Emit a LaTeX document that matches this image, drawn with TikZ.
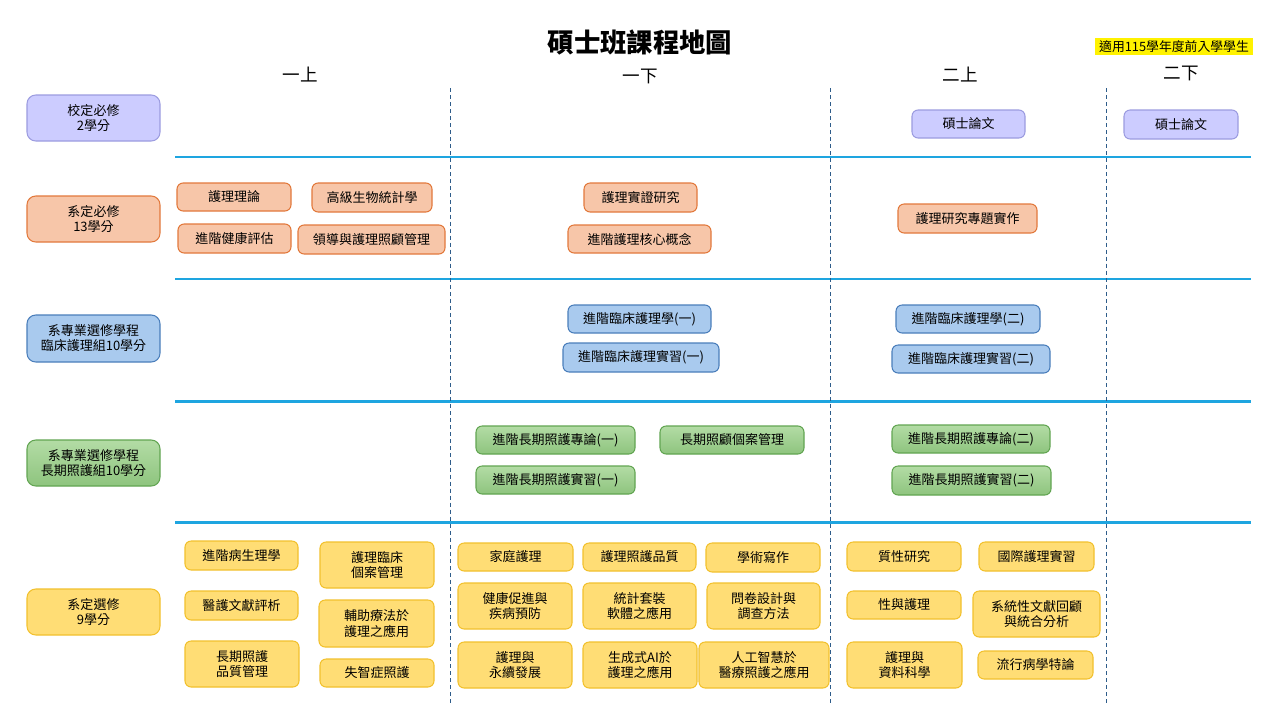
\documentclass[tikz,border=0pt]{standalone}
\usepackage{fontspec}
\setmainfont{Noto Sans CJK TC}
\definecolor{purpfill}{HTML}{CCCCFF}
\definecolor{purpline}{HTML}{9C9CE0}
\definecolor{salfill}{HTML}{F7C6A9}
\definecolor{salline}{HTML}{E2793C}
\definecolor{bluefill}{HTML}{A9CAEE}
\definecolor{blueline}{HTML}{4A7EBB}
\definecolor{greentop}{HTML}{B3DCA5}
\definecolor{greenbot}{HTML}{8EC47E}
\definecolor{greenline}{HTML}{62A552}
\definecolor{yelfill}{HTML}{FFDD75}
\definecolor{yelline}{HTML}{F2C12E}
\definecolor{rule}{HTML}{1EA5E0}
\definecolor{dashc}{HTML}{2E5C8A}
\tikzset{
  box/.style={draw, rounded corners=3.5pt, line width=0.6pt, inner sep=0pt, align=center,
    font=\fontsize{7.4}{8.6}\selectfont},
  lbl/.style={box, rounded corners=5pt},
  purp/.style={fill=purpfill, draw=purpline},
  sal/.style={fill=salfill, draw=salline},
  blu/.style={fill=bluefill, draw=blueline},
  grn/.style={top color=greentop, bottom color=greenbot, draw=greenline},
  yel/.style={fill=yelfill, draw=yelline},
  hrule/.style={draw=rule, line width=1.7pt},
  vrule/.style={draw=dashc, line width=0.55pt, dash pattern=on 2.3pt off 1.7pt},
  header/.style={font=\fontsize{10}{12}\selectfont, inner sep=0pt}
}
\newcommand\coursebox[7]{\node[box,#2, minimum width={(#5-#3)*0.02cm}, minimum height={(#6-#4)*0.02cm}] (#1) at ({(#3+#5)/2},{(#4+#6)/2}) {#7};}
\newcommand\labelbox[7]{\node[lbl,#2, minimum width={(#5-#3)*0.02cm}, minimum height={(#6-#4)*0.02cm}] (#1) at ({(#3+#5)/2},{(#4+#6)/2}) {#7};}
\begin{document}
\begin{tikzpicture}[x=0.02cm,y=-0.02cm]
\fill[white] (0,0) rectangle (1280,720);
\useasboundingbox (0,0) rectangle (1280,720);
% title
\node[font=\fontsize{15}{18}\selectfont\bfseries, inner sep=0pt] (title) at (640,42) {碩士班課程地圖};
\node[fill=yellow, inner sep=0pt, minimum width={158*0.02cm}, minimum height={17*0.02cm}, font=\fontsize{7.3}{9}\selectfont] (note) at (1174,46.5) {適用115學年度前入學學生};
% headers
\node[header] (h1) at (300,75) {一上};
\node[header] (h2) at (640,76) {一下};
\node[header] (h3) at (960,75) {二上};
\node[header] (h4) at (1181,73) {二下};
% rules
\foreach \yy in {157,279,401,522} \draw[hrule] (175,\yy) -- (1251,\yy);
\foreach \xx in {450,830,1106} \draw[vrule] (\xx,88) -- (\xx,703);
% left labels
\labelbox{L1}{purp}{27}{95}{160}{141}{校定必修\\2學分}
\labelbox{L2}{sal}{27}{196}{160}{242}{系定必修\\13學分}
\labelbox{L3}{blu}{27}{315}{160}{362}{系專業選修學程\\臨床護理組10學分}
\labelbox{L4}{grn}{27}{440}{160}{486}{系專業選修學程\\長期照護組10學分}
\labelbox{L5}{yel}{27}{589}{160}{635}{系定選修\\9學分}
% row 1
\coursebox{r1a}{purp}{912}{110}{1025}{138}{碩士論文}
\coursebox{r1b}{purp}{1124}{110}{1238}{139}{碩士論文}
% row 2
\coursebox{r2a}{sal}{177}{183}{291}{211}{護理理論}
\coursebox{r2b}{sal}{312}{183}{432}{212}{高級生物統計學}
\coursebox{r2c}{sal}{178}{224}{291}{253}{進階健康評估}
\coursebox{r2d}{sal}{298}{225}{445}{254}{領導與護理照顧管理}
\coursebox{r2e}{sal}{584}{183}{697}{212}{護理實證研究}
\coursebox{r2f}{sal}{568}{225}{711}{253}{進階護理核心概念}
\coursebox{r2g}{sal}{898}{204}{1037}{233}{護理研究專題實作}
% row 3
\coursebox{r3a}{blu}{568}{305}{711}{333}{進階臨床護理學(一)}
\coursebox{r3b}{blu}{563}{343}{719}{372}{進階臨床護理實習(一)}
\coursebox{r3c}{blu}{896}{305}{1040}{333}{進階臨床護理學(二)}
\coursebox{r3d}{blu}{892}{345}{1050}{373}{進階臨床護理實習(二)}
% row 4
\coursebox{r4a}{grn}{476}{426}{635}{454}{進階長期照護專論(一)}
\coursebox{r4b}{grn}{660}{426}{804}{454}{長期照顧個案管理}
\coursebox{r4c}{grn}{476}{466}{635}{494}{進階長期照護實習(一)}
\coursebox{r4d}{grn}{892}{425}{1050}{453}{進階長期照護專論(二)}
\coursebox{r4e}{grn}{892}{466}{1051}{495}{進階長期照護實習(二)}
% row 5
\coursebox{e1}{yel}{185}{541}{298}{570}{進階病生理學}
\coursebox{e2}{yel}{185}{591}{298}{620}{醫護文獻評析}
\coursebox{e3}{yel}{185}{641}{299}{687}{長期照護\\品質管理}
\coursebox{e4}{yel}{320}{542}{434}{588}{護理臨床\\個案管理}
\coursebox{e5}{yel}{319}{600}{434}{647}{輔助療法於\\護理之應用}
\coursebox{e6}{yel}{320}{659}{434}{687}{失智症照護}
\coursebox{e7}{yel}{458}{543}{573}{571}{家庭護理}
\coursebox{e8}{yel}{583}{543}{696}{571}{護理照護品質}
\coursebox{e9}{yel}{706}{543}{820}{572}{學術寫作}
\coursebox{e10}{yel}{458}{583}{572}{629}{健康促進與\\疾病預防}
\coursebox{e11}{yel}{583}{583}{696}{629}{統計套裝\\軟體之應用}
\coursebox{e12}{yel}{707}{583}{820}{629}{問卷設計與\\調查方法}
\coursebox{e13}{yel}{458}{642}{572}{688}{護理與\\永續發展}
\coursebox{e14}{yel}{583}{642}{697}{688}{生成式AI於\\護理之應用}
\coursebox{e15}{yel}{699}{642}{829}{688}{人工智慧於\\醫療照護之應用}
\coursebox{e16}{yel}{847}{542}{961}{571}{質性研究}
\coursebox{e17}{yel}{979}{542}{1094}{571}{國際護理實習}
\coursebox{e18}{yel}{847}{591}{961}{619}{性與護理}
\coursebox{e19}{yel}{973}{591}{1100}{637}{系統性文獻回顧\\與統合分析}
\coursebox{e20}{yel}{847}{642}{962}{688}{護理與\\資料科學}
\coursebox{e21}{yel}{978}{651}{1093}{679}{流行病學特論}
\end{tikzpicture}
\end{document}
